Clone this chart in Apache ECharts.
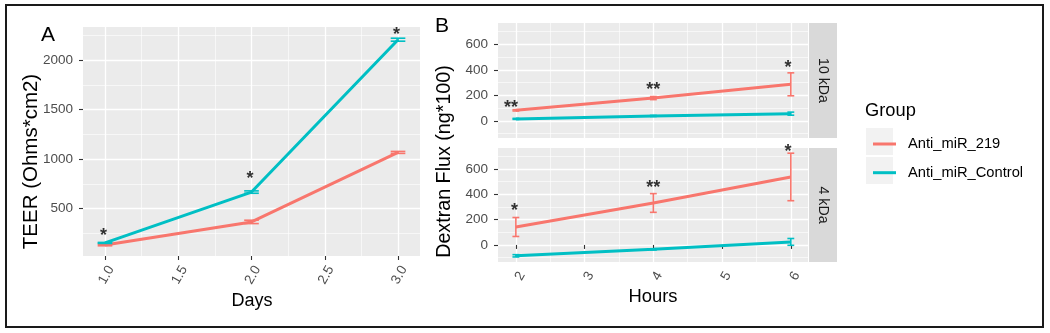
<!DOCTYPE html>
<html><head><meta charset="utf-8">
<script src="https://cdn.jsdelivr.net/npm/echarts@6/dist/echarts.min.js"></script>
<style>html,body{margin:0;padding:0;background:#fff}#c{width:1050px;height:333px}</style>
</head><body><div id="c"></div>
<script>
// ---------------- data ----------------
const groups = ['Anti_miR_219', 'Anti_miR_Control'];
const facets = ['10 kDa', '4 kDa'];

const days = [1, 2, 3];
const teer219 = [134, 367, 1068];
const teer219Err = [8, 17, 10];
const teerCtrl = [155, 668, 2205];
const teerCtrlErr = [5, 12, 15];

const hours = [2, 4, 6];
const flux10_219 = [82, 178, 286];
const flux10_219Err = [5, 12, 90];
const flux10Ctrl = [15, 38, 56];
const flux10CtrlErr = [4, 4, 12];
const flux4_219 = [142, 332, 538];
const flux4_219Err = [75, 74, 188];
const flux4Ctrl = [-86, -35, 24];
const flux4CtrlErr = [9, 5, 27];

const dayTicks = [1, 1.5, 2, 2.5, 3];
const teerTicks = [500, 1000, 1500, 2000];
const hourTicks = [2, 3, 4, 5, 6];
const fluxTicks = [0, 200, 400, 600];

const starsA = [[0.99, 275, '*'], [1.99, 845, '*'], [2.99, 2302, '*']];
const stars10 = [[1.93, 138, '**'], [4, 284, '**'], [5.96, 456, '*']];
const stars4 = [[1.98, 311, '*'], [4, 492, '**'], [5.96, 773, '*']];

// ---------------- styling ----------------
const FONT = 'Liberation Sans, Arial, sans-serif';
const RED = '#F8766D', TEAL = '#00BFC4';
const colors = [RED, TEAL];
const xA = [0.85, 3.15], yA = [23, 2333];
const xB = [1.74, 6.25], yB = [-135, 767];

function minorOf(ticks, min, max) {
  const step = ticks[1] - ticks[0];
  const out = [];
  for (let v = ticks[0] - step / 2; v <= max; v += step) if (v >= min) out.push(v);
  return out;
}
function xAxisPair(gi, ext, ticks, fmt, labels) {
  return [
    {type: 'value', gridIndex: gi, min: ext[0], max: ext[1], position: 'bottom',
      axisLine: {show: false},
      axisTick: {show: labels, customValues: ticks, length: 4, lineStyle: {color: '#333', width: 1.1}},
      axisLabel: {show: labels, customValues: ticks, formatter: fmt, rotate: 60, color: '#4d4d4d',
        fontSize: 13.5, fontFamily: FONT, margin: 7.5, verticalAlign: 'top'},
      splitLine: {show: true, lineStyle: {color: '#fff', width: 1.3}}},
    {type: 'value', gridIndex: gi, min: ext[0], max: ext[1], position: 'bottom',
      axisLine: {show: false},
      axisTick: {show: false, customValues: minorOf(ticks, ext[0], ext[1])},
      axisLabel: {show: false},
      splitLine: {show: true, lineStyle: {color: '#fff', width: 0.6}}}
  ];
}
function yAxisPair(gi, ext, ticks, margin) {
  return [
    {type: 'value', gridIndex: gi, min: ext[0], max: ext[1],
      axisLine: {show: false},
      axisTick: {show: true, customValues: ticks, length: 4, lineStyle: {color: '#333', width: 1.1}},
      axisLabel: {customValues: ticks, formatter: v => String(v), color: '#4d4d4d', fontSize: 13.5,
        fontFamily: FONT, margin: margin},
      splitLine: {show: true, lineStyle: {color: '#fff', width: 1.3}}},
    {type: 'value', gridIndex: gi, min: ext[0], max: ext[1],
      axisLine: {show: false},
      axisTick: {show: false, customValues: minorOf(ticks, ext[0], ext[1])},
      axisLabel: {show: false},
      splitLine: {show: true, lineStyle: {color: '#fff', width: 0.6}}}
  ];
}
function zip(xs, ys) { return xs.map((x, i) => [x, ys[i]]); }
function errData(xs, ys, es) { return xs.map((x, i) => [x, ys[i] - es[i], ys[i] + es[i]]); }
function errRender(capHalf) {
  return function (params, api) {
    const x = api.value(0), lo = api.value(1), hi = api.value(2);
    const pLo = api.coord([x, lo]), pHi = api.coord([x, hi]);
    const w = api.size([capHalf, 0])[0];
    const style = {stroke: api.visual('color'), lineWidth: 1.6, fill: null};
    return {type: 'group', children: [
      {type: 'line', shape: {x1: pLo[0], y1: pHi[1], x2: pLo[0], y2: pLo[1]}, style: style},
      {type: 'line', shape: {x1: pLo[0] - w, y1: pHi[1], x2: pLo[0] + w, y2: pHi[1]}, style: style},
      {type: 'line', shape: {x1: pLo[0] - w, y1: pLo[1], x2: pLo[0] + w, y2: pLo[1]}, style: style}
    ]};
  };
}
function lineSeries(name, axisIdx, data, color) {
  return {type: 'line', name: name, xAxisIndex: axisIdx, yAxisIndex: axisIdx, data: data,
    symbol: 'none', lineStyle: {width: 3, color: color}, itemStyle: {color: color}, z: 3, silent: true, animation: false};
}
function errSeries(name, axisIdx, data, color, capHalf) {
  return {type: 'custom', name: name, xAxisIndex: axisIdx, yAxisIndex: axisIdx, data: data,
    renderItem: errRender(capHalf), encode: {x: 0, y: [1, 2]}, itemStyle: {color: color}, z: 4,
    silent: true, animation: false, clip: false};
}
function starSeries(axisIdx, data) {
  return {type: 'scatter', xAxisIndex: axisIdx, yAxisIndex: axisIdx, data: data, symbolSize: 0,
    clip: false, silent: true, animation: false, z: 6,
    label: {show: true, position: 'inside', formatter: p => p.value[2], color: '#000',
      fontSize: 18, fontWeight: 'bold', fontFamily: FONT, offset: [0, 5]}};
}

const series = [];
// panel A (axes 0)
series.push(lineSeries(groups[0], 0, zip(days, teer219), RED));
series.push(lineSeries(groups[1], 0, zip(days, teerCtrl), TEAL));
series.push(errSeries(groups[0], 0, errData(days, teer219, teer219Err), RED, 0.05));
series.push(errSeries(groups[1], 0, errData(days, teerCtrl, teerCtrlErr), TEAL, 0.05));
series.push(starSeries(0, starsA));
// panel B 10 kDa (axes 2)
series.push(lineSeries(groups[0], 2, zip(hours, flux10_219), RED));
series.push(lineSeries(groups[1], 2, zip(hours, flux10Ctrl), TEAL));
series.push(errSeries(groups[0], 2, errData(hours, flux10_219, flux10_219Err), RED, 0.05));
series.push(errSeries(groups[1], 2, errData(hours, flux10Ctrl, flux10CtrlErr), TEAL, 0.05));
series.push(starSeries(2, stars10));
// panel B 4 kDa (axes 4)
series.push(lineSeries(groups[0], 4, zip(hours, flux4_219), RED));
series.push(lineSeries(groups[1], 4, zip(hours, flux4Ctrl), TEAL));
series.push(errSeries(groups[0], 4, errData(hours, flux4_219, flux4_219Err), RED, 0.05));
series.push(errSeries(groups[1], 4, errData(hours, flux4Ctrl, flux4CtrlErr), TEAL, 0.05));
series.push(starSeries(4, stars4));

const gridStyle = {show: true, backgroundColor: '#EBEBEB', borderWidth: 0};
const grids = [
  Object.assign({left: 83, top: 27, width: 337, height: 229}, gridStyle),
  Object.assign({left: 498, top: 23, width: 310, height: 115}, gridStyle),
  Object.assign({left: 498, top: 148, width: 310, height: 114}, gridStyle)
];

const xAxes = [].concat(
  xAxisPair(0, xA, dayTicks, v => v.toFixed(1), true),
  xAxisPair(1, xB, hourTicks, v => String(v), false),
  xAxisPair(2, xB, hourTicks, v => String(v), true)
);
const yAxes = [].concat(
  yAxisPair(0, yA, teerTicks, 10),
  yAxisPair(1, yB, fluxTicks, 10),
  yAxisPair(2, yB, fluxTicks, 10)
);

const txt = (x, y, text, size, extra) => Object.assign({type: 'text', x: x, y: y,
  style: {text: text, fontSize: size, fontFamily: FONT, fill: '#000', align: 'center', verticalAlign: 'middle'}}, extra || {});

const graphic = [
  {type: 'rect', shape: {x: 6, y: 5, width: 1037, height: 322}, style: {fill: null, stroke: '#1a1a1a', lineWidth: 2}, z: 10},
  // strips
  {type: 'rect', shape: {x: 809, y: 23, width: 28, height: 115}, style: {fill: '#D9D9D9'}},
  {type: 'rect', shape: {x: 809, y: 148, width: 28, height: 114}, style: {fill: '#D9D9D9'}},
  txt(823, 80.5, facets[0], 14.2, {rotation: -Math.PI / 2, style: {text: facets[0], fontSize: 14.2, fontFamily: FONT, fill: '#1a1a1a', align: 'center', verticalAlign: 'middle'}}),
  txt(823, 205, facets[1], 14.2, {rotation: -Math.PI / 2, style: {text: facets[1], fontSize: 14.2, fontFamily: FONT, fill: '#1a1a1a', align: 'center', verticalAlign: 'middle'}}),
  // panel tags
  txt(48, 35, 'A', 21),
  txt(442, 26, 'B', 21),
  // axis titles
  txt(31, 161.5, 'TEER (Ohms*cm2)', 20.5, {rotation: Math.PI / 2}),
  txt(445, 161.5, 'Dextran Flux (ng*100)', 19.7, {rotation: Math.PI / 2}),
  txt(252, 301, 'Days', 18),
  txt(653, 297, 'Hours', 18.4),
  // legend
  {type: 'text', x: 865, y: 111, style: {text: 'Group', fontSize: 18.3, fontFamily: FONT, fill: '#000', align: 'left', verticalAlign: 'middle'}},
  {type: 'rect', shape: {x: 866, y: 128, width: 27, height: 27}, style: {fill: '#F2F2F2'}},
  {type: 'rect', shape: {x: 866, y: 157, width: 27, height: 27}, style: {fill: '#F2F2F2'}}
];

const option = {
  animation: false,
  backgroundColor: '#fff',
  color: colors,
  grid: grids,
  xAxis: xAxes,
  yAxis: yAxes,
  legend: {data: groups, orient: 'vertical', left: 868, top: 130, itemWidth: 23, itemHeight: 3,
    icon: 'rect', itemGap: 10.7, selectedMode: false,
    textStyle: {fontSize: 14.7, fontFamily: FONT, color: '#000', lineHeight: 18, padding: [0, 0, 0, 7]}},
  graphic: graphic,
  series: series
};
const chart = echarts.init(document.getElementById('c'), null, {renderer: 'canvas'});
chart.setOption(option);
</script></body></html>
